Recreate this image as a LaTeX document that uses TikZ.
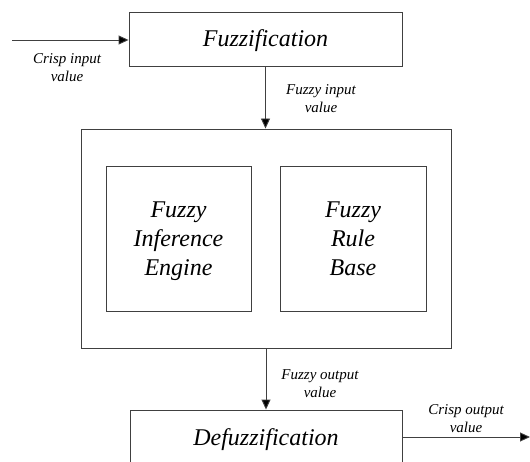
\documentclass[tikz,border=0pt]{standalone}
\usepackage{fontspec}
\setmainfont{Liberation Serif}
\usetikzlibrary{arrows.meta}
\begin{document}
\begin{tikzpicture}[x=1pt,y=-1pt,
  block/.style={draw=black!75, line width=0.9pt, inner sep=0pt,
    font=\fontsize{24}{29}\selectfont\itshape, align=center},
  lbl/.style={font=\fontsize{15}{18}\selectfont\itshape, align=center, inner sep=0pt},
  flow/.style={draw=black!75, line width=0.9pt, -{Triangle[length=10pt,width=9pt,fill=black]}}]
\useasboundingbox (0,0) rectangle (530,462);
\clip (0,0) rectangle (530,462);

% processing stages
\node[block, minimum width=273, minimum height=54] (fuzz) at (265.5,39) {\rule{0pt}{21pt}Fuzzification};
\node[block, minimum width=370, minimum height=219] (core) at (266,238.5) {};
\node[block, minimum width=145, minimum height=145] (engine) at (178.5,238.5) {\strut Fuzzy\\Inference\\Engine};
\node[block, minimum width=146, minimum height=145] (rules) at (353,238.5) {\strut Fuzzy\\Rule\\Base\vphantom{g}};
\node[block, minimum width=272, minimum height=56] (defuzz) at (266,438) {\rule{0pt}{21pt}Defuzzification};

% free ends of the input and output lines
\coordinate (in) at (12,40);
\coordinate (out) at (530,437);

% connectors
\draw[flow] (in) -- (fuzz.west |- in);
\draw[flow] (fuzz.south) -- (fuzz.south |- core.north);
\draw[flow] (core.south) -- (core.south |- defuzz.north);
\draw[flow] (defuzz.east |- out) -- (out);

% connector labels
\node[lbl] (lin) at (67,67.5) {Crisp input\\value};
\node[lbl] (lfi) at (321,99) {Fuzzy input\\value};
\node[lbl] (lfo) at (320,384) {Fuzzy output\\value};
\node[lbl] (lout) at (466,419) {Crisp output\\value};
\end{tikzpicture}
\end{document}
